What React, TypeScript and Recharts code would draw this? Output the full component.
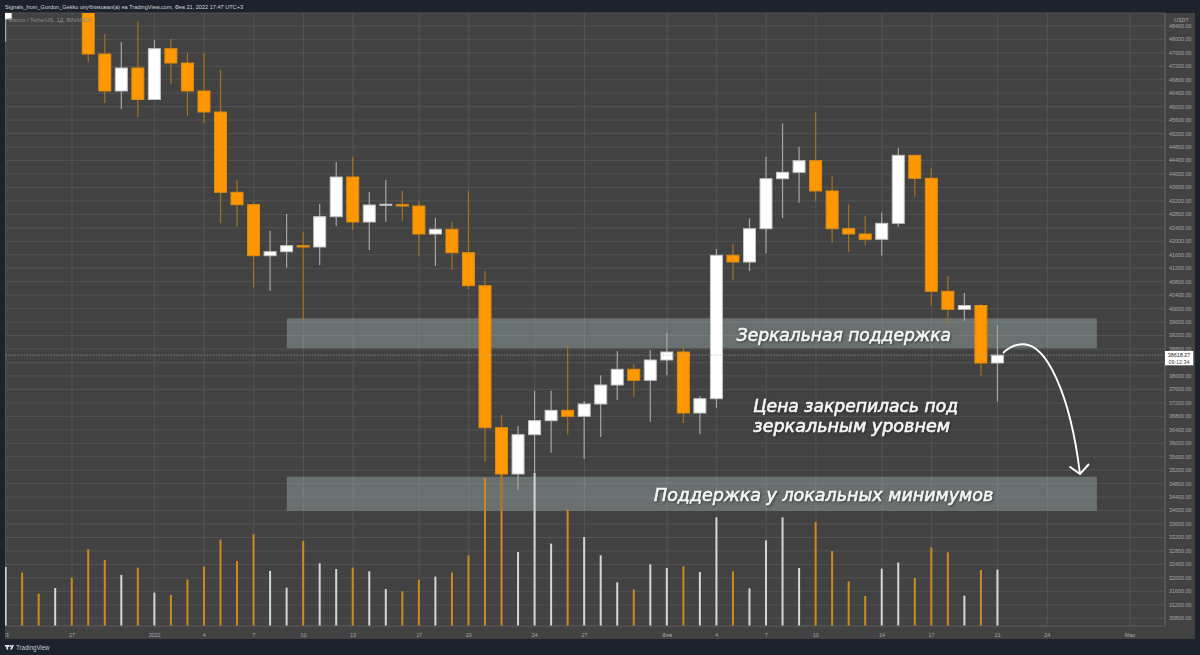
import React from "react";
import { ComposedChart, Bar, XAxis, YAxis, CartesianGrid, ReferenceArea, ReferenceLine } from "recharts";

const opens = [48605,50850,50840,50430,50700,50640,47565,46466,47149,46213,47722,47297,46466,45842,43456,43088,41572,41691,41870,41831,42731,43910,42574,43079,43090,43049,42217,42357,41662,40681,36463,35087,36255,36671,36979,36801,37167,37731,38198,37871,38474,38712,36899,37324,41584,41385,42375,43860,44050,44395,43495,42375,42217,42060,42535,44555,43872,40515,39980,40093,38385];
const closes = [50800,50820,50430,50800,50640,47565,46466,47149,46213,47722,47297,46466,45842,43456,43088,41572,41691,41870,41831,42731,43910,42574,43079,43100,43049,42217,42357,41662,40681,36463,35087,36255,36671,36979,36801,37167,37731,38198,37871,38474,38712,36899,37324,41584,41385,42375,43860,44050,44395,43495,42375,42217,42060,42535,44555,43872,40515,39980,40093,38385,38618.27];
const highs = [51300,51860,51150,51280,52090,50700,48159,47921,48545,47981,48010,47594,47594,47090,43821,43159,42315,42811,42277,43109,44356,44514,43465,43821,43495,43198,42693,42574,43504,41118,36840,36513,37562,37562,38920,37256,38019,38741,38355,38771,39285,38869,37404,41772,41920,42684,44514,45506,44811,45833,43940,43100,42761,42850,44772,44560,44178,40969,40464,40138,39514];
const lows = [47930,50400,50200,49460,50470,47327,46109,45931,45693,46200,46673,45723,45515,42535,42434,40634,40524,41216,39692,41296,42455,42336,41742,42583,42612,41563,41267,41148,40583,35452,34008,34612,35146,35720,36255,35533,36186,37285,37375,36641,38019,36602,36266,37057,40850,41118,41644,42693,43147,43198,41959,41691,41881,41572,42434,43325,40087,39484,39641,38007,37235];
const volumes = [59000,53400,32400,38000,48400,76700,66000,51000,58400,33400,31000,46700,59400,86400,65000,91700,55000,38400,85000,62700,57000,58400,54700,37000,34700,46400,49400,53400,70700,148000,152000,74000,153400,82400,116400,89000,70700,43700,36400,61700,58000,59700,54000,108700,54700,37700,85700,108700,58000,104000,75000,44700,30000,57400,63400,48000,78700,73700,30400,56000,56400];

const tickIndexes = [0,4,9,12,15,18,21,25,28,32,35,40,43,46,49,53,56,60,63,68];
const tickLabels = ["23","27","2022","4","7","10","13","17","20","24","27","Фев","4","7","10","14","17","21","24","Мар"];
const priceTicks = [30800,31200,31600,32000,32400,32800,33200,33600,34000,34400,34800,35200,35600,36000,36400,36800,37200,37600,38000,38400,38800,39200,39600,40000,40400,40800,41200,41600,42000,42400,42800,43200,43600,44000,44400,44800,45200,45600,46000,46400,46800,47200,47600,48000,48400];

const lastPrice = 38618.27;
const supportZoneUpper = { i1: 17, i2: 66, p1: 39713, p2: 38821 };
const supportZoneLower = { i1: 17, i2: 66, p1: 35007, p2: 33997 };

const data = opens.map((open, i) => ({
  i,
  open,
  close: closes[i],
  high: highs[i],
  low: lows[i],
  volume: volumes[i],
  up: closes[i] >= open,
}));

const ORANGE = "#ff9800";
const FRAME = "#1e222d";
const PANEL = "#424242";
const GRID = "#535353";
const SANS = "'Liberation Sans', Arial, sans-serif";
const xDomain: [number, number] = [-0.052, 70.12];

function Candle(props: any) {
  const { x, y, width, height, payload } = props;
  const { open, close, high, low, up } = payload;
  const k = height / (high - low);
  const top = y + (high - Math.max(open, close)) * k;
  const bodyH = Math.max(Math.abs(open - close) * k, 1);
  const cx = x + width / 2;
  return (
    <g>
      <line x1={cx} x2={cx} y1={y} y2={y + height} stroke={up ? "#a6a6a6" : "#a5711f"} strokeWidth={1.2} />
      <rect x={x} y={top} width={width} height={bodyH} fill={up ? "#ffffff" : ORANGE} stroke={up ? "#c4c4c4" : "#dd8c10"} strokeWidth={1} />
    </g>
  );
}

function VolumeBar(props: any) {
  const { x, y, width, height, payload } = props;
  return <rect x={x} y={y} width={width} height={height} fill={payload.up ? "#d6d6d6" : "#cf8a1e"} />;
}

const annotationStyle: React.CSSProperties = {
  fontFamily: "'DejaVu Sans', sans-serif",
  fontStyle: "italic",
  fontWeight: 400,
  fill: "#f6f6f6",
  stroke: "#f6f6f6",
  strokeWidth: 0.65,
  filter: "drop-shadow(1px 1px 1px rgba(30,30,30,0.6))",
};

export default function App() {
  return (
    <div style={{ position: "absolute", left: 0, top: 0, width: 1200, height: 655, background: FRAME, overflow: "hidden" }}>
      <div style={{ position: "absolute", left: 5, top: 13, width: 1190, height: 626, background: PANEL }} />
      <div style={{ position: "absolute", left: 0, top: 0 }}>
        <ComposedChart width={1200} height={655} data={data} margin={{ top: 13, right: 5, bottom: 16, left: 5 }}>
          <XAxis
            dataKey="i"
            type="number"
            domain={xDomain}
            allowDataOverflow
            ticks={tickIndexes}
            interval={0}
            height={13}
            tickLine={false}
            tickMargin={1}
            axisLine={{ stroke: "#555555" }}
            tick={{ fontSize: 5.4, fill: "#a8a8a8", fontFamily: SANS }}
            tickFormatter={(v: number) => tickLabels[tickIndexes.indexOf(v)] ?? ""}
          />
          <XAxis xAxisId="vol" dataKey="i" type="number" domain={xDomain} allowDataOverflow hide />
          <YAxis
            orientation="right"
            width={30}
            domain={[30571, 48783]}
            allowDataOverflow
            ticks={priceTicks}
            interval={0}
            tickLine={false}
            tickMargin={4}
            tickSize={0}
            axisLine={{ stroke: "#5e5e5e" }}
            tick={{ fontSize: 5.4, fill: "#a8a8a8", fontFamily: SANS }}
            tickFormatter={(v: number) => v.toFixed(2)}
          />
          <YAxis yAxisId="vol" hide domain={[0, 613000]} />
          <CartesianGrid stroke={GRID} strokeWidth={1} />
          <ReferenceArea x1={supportZoneUpper.i1} x2={supportZoneUpper.i2} y1={supportZoneUpper.p1} y2={supportZoneUpper.p2} fill="#ecffff" fillOpacity={0.24} stroke="none" />
          <ReferenceArea x1={supportZoneLower.i1} x2={supportZoneLower.i2} y1={supportZoneLower.p1} y2={supportZoneLower.p2} fill="#ecffff" fillOpacity={0.24} stroke="none" />
          <ReferenceLine y={lastPrice} stroke="#a8a8a8" strokeDasharray="1.5 1.5" strokeWidth={0.6} />
          <Bar xAxisId="vol" yAxisId="vol" dataKey="volume" barSize={2} shape={VolumeBar} isAnimationActive={false} />
          <Bar dataKey={(d: any) => [d.low, d.high]} barSize={12} shape={Candle} isAnimationActive={false} />
        </ComposedChart>
      </div>
      <svg width={1200} height={655} style={{ position: "absolute", left: 0, top: 0, pointerEvents: "none" }}>
        <rect x={0} y={0} width={5} height={655} fill={FRAME} />
        <rect x={0} y={639} width={1200} height={16} fill={FRAME} />
        <text x={5} y={9} fontSize={5.9} fill="#d4d6da" fontFamily={SANS} textLength={238} lengthAdjust="spacingAndGlyphs">
          Signals_from_Gordon_Gekko опубликовал(а) на TradingView.com, Фев 21, 2022 17:47 UTC+3
        </text>
        <text x={8.5} y={22} fontSize={6} fill="#8c8c8c" fontFamily={SANS} textLength={83} lengthAdjust="spacingAndGlyphs">
          Bitcoin / TetherUS, 1Д, BINANCE
        </text>
        <text x={1174} y={22} fontSize={5.4} fill="#a8a8a8" fontFamily={SANS}>USDT</text>

        <text x={736.7} y={341} fontSize={18} textLength={214.3} lengthAdjust="spacingAndGlyphs" style={annotationStyle}>Зеркальная поддержка</text>
        <text x={753.3} y={411.5} fontSize={17} textLength={204.7} lengthAdjust="spacingAndGlyphs" style={annotationStyle}>Цена закрепилась под</text>
        <text x={753.3} y={431.5} fontSize={17} textLength={196.7} lengthAdjust="spacingAndGlyphs" style={annotationStyle}>зеркальным уровнем</text>
        <text x={654} y={501} fontSize={18} textLength={339.3} lengthAdjust="spacingAndGlyphs" style={annotationStyle}>Поддержка у локальных минимумов</text>

        <path d="M1003,353 C1010,346 1017,344 1024,344.3 C1046,345 1070,392 1080,474" fill="none" stroke="#ffffff" strokeWidth={1.9} />
        <path d="M1069.5,466.5 L1080,474 L1089,464" fill="none" stroke="#ffffff" strokeWidth={1.9} />

        <rect x={1165} y={351} width={28.3} height={14.3} fill="#ffffff" />
        <text x={1179} y={357} fontSize={5.4} fill="#222222" fontFamily={SANS} textAnchor="middle">{lastPrice.toFixed(2)}</text>
        <text x={1179} y={363.5} fontSize={5.4} fill="#444444" fontFamily={SANS} textAnchor="middle">09:12:34</text>

        <rect x={5} y={645} width={4.6} height={1.8} fill="#e0e0e0" />
        <rect x={6.4} y={645} width={1.8} height={4.6} fill="#e0e0e0" />
        <circle cx={10.6} cy={646} r={0.9} fill="#e0e0e0" />
        <path d="M12,645 H14 L12,649.6 H10 Z" fill="#e0e0e0" />
        <text x={16} y={649.5} fontSize={6.8} fill="#c6c8cc" fontFamily={SANS} textLength={33.5} lengthAdjust="spacingAndGlyphs">TradingView</text>
      </svg>
    </div>
  );
}
